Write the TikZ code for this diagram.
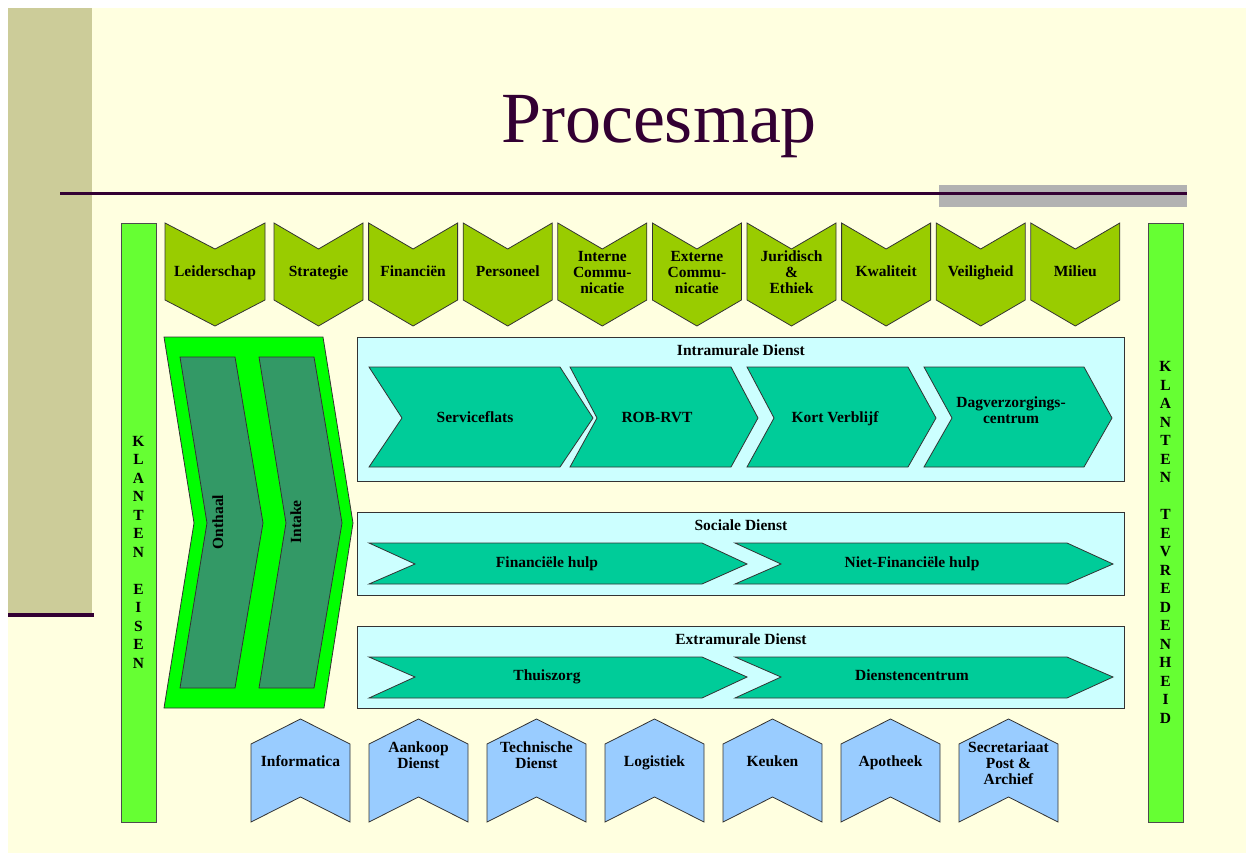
\documentclass[tikz,border=0pt]{standalone}
\usepackage{fontspec}
\setmainfont{Liberation Serif}
\usetikzlibrary{positioning}
\definecolor{slidebg}{HTML}{FFFFE0}
\definecolor{khaki}{HTML}{CCCC99}
\definecolor{plum}{HTML}{330033}
\definecolor{greybar}{HTML}{B2B2B2}
\definecolor{barlime}{HTML}{66FF33}
\definecolor{olivegreen}{HTML}{99CC00}
\definecolor{puregreen}{HTML}{00FF00}
\definecolor{seagreen}{HTML}{339966}
\definecolor{palecyan}{HTML}{CCFFFF}
\definecolor{procteal}{HTML}{00CC99}
\definecolor{skyblue}{HTML}{99CCFF}

\begin{document}
\begin{tikzpicture}[x=1pt, y=-1pt, line join=miter, node distance=7.5pt,
    lbl/.style={font=\bfseries\fontsize{15.5}{16}\selectfont, align=center, inner sep=0pt},
    onelbl/.style={lbl, text height=11pt, text depth=3pt},
    barlbl/.style={font=\bfseries\fontsize{15.5}{18.5}\selectfont, align=center, inner sep=0pt},
    sidebar/.style={draw=black!70, line width=0.8pt, fill=barlime, inner sep=0pt, anchor=north west},
    topchev/.style={draw=black!80, line width=0.8pt, fill=olivegreen},
    botchev/.style={draw=black!80, line width=0.8pt, fill=skyblue},
    procchev/.style={draw=black!80, line width=0.8pt, fill=procteal},
    dienstbox/.style={draw=black!80, line width=0.8pt, fill=palecyan, inner sep=0pt, anchor=north west, minimum width=767pt}]
    \useasboundingbox (0,0) rectangle (1246,853);
    \fill[white] (0,0) rectangle (1246,853);
    \fill[slidebg] (8,8) rectangle (1246,853);

    % slide decoration
    \fill[khaki] (8,8) rectangle (92,613);
    \draw[plum, line width=4pt] (8,615) -- (94,615);
    \fill[greybar] (939,185) rectangle (1187,207);
    \draw[plum, line width=3pt] (60,193) -- (1187,193);
    \node[text=plum, font=\fontsize{72}{80}\selectfont, anchor=base, inner sep=0pt] (title) at (659,143) {Procesmap};

    % klanten bars
    \node[sidebar, minimum width=35pt, minimum height=599pt] (eisen) at (121,223) {};
    \node[sidebar, minimum width=35pt, minimum height=599pt] (tevreden) at (1148,223) {};
    \node[barlbl] (eisentxt) at (138.5,552) {K\\L\\A\\N\\T\\E\\N\\[18.5pt]E\\I\\S\\E\\N};
    \node[barlbl] (tevredentxt) at (1165.5,542.5) {K\\L\\A\\N\\T\\E\\N\\[18.5pt]T\\E\\V\\R\\E\\D\\E\\N\\H\\E\\I\\D};

    % management chevrons
    \draw[topchev] (165,223) -- ++(50,26) -- ++(50,-26) -- ++(0,77) -- ++(-50,26) -- ++(-50,-26) -- cycle;
    \draw[topchev] (274,223) -- ++(44.5,26) -- ++(44.5,-26) -- ++(0,77) -- ++(-44.5,26) -- ++(-44.5,-26) -- cycle;
    \draw[topchev] (368.6,223) -- ++(44.5,26) -- ++(44.5,-26) -- ++(0,77) -- ++(-44.5,26) -- ++(-44.5,-26) -- cycle;
    \draw[topchev] (463.2,223) -- ++(44.5,26) -- ++(44.5,-26) -- ++(0,77) -- ++(-44.5,26) -- ++(-44.5,-26) -- cycle;
    \draw[topchev] (557.8,223) -- ++(44.5,26) -- ++(44.5,-26) -- ++(0,77) -- ++(-44.5,26) -- ++(-44.5,-26) -- cycle;
    \draw[topchev] (652.4,223) -- ++(44.5,26) -- ++(44.5,-26) -- ++(0,77) -- ++(-44.5,26) -- ++(-44.5,-26) -- cycle;
    \draw[topchev] (747,223) -- ++(44.5,26) -- ++(44.5,-26) -- ++(0,77) -- ++(-44.5,26) -- ++(-44.5,-26) -- cycle;
    \draw[topchev] (841.6,223) -- ++(44.5,26) -- ++(44.5,-26) -- ++(0,77) -- ++(-44.5,26) -- ++(-44.5,-26) -- cycle;
    \draw[topchev] (936.2,223) -- ++(44.5,26) -- ++(44.5,-26) -- ++(0,77) -- ++(-44.5,26) -- ++(-44.5,-26) -- cycle;
    \draw[topchev] (1030.8,223) -- ++(44.5,26) -- ++(44.5,-26) -- ++(0,77) -- ++(-44.5,26) -- ++(-44.5,-26) -- cycle;
    \node[onelbl] (leider) at (215,272) {Leiderschap};
    \node[onelbl] (strat) at (318.5,272) {Strategie};
    \node[onelbl] (fin) at (413.1,272) {Financiën};
    \node[onelbl] (pers) at (507.7,272) {Personeel};
    \node[lbl] (intcom) at (602.3,272) {Interne\\Commu-\\nicatie};
    \node[lbl] (extcom) at (696.9,272) {Externe\\Commu-\\nicatie};
    \node[lbl] (jur) at (791.5,272) {Juridisch\\\&\\Ethiek};
    \node[onelbl] (kwal) at (886.1,272) {Kwaliteit};
    \node[onelbl] (veil) at (980.7,272) {Veiligheid};
    \node[onelbl] (milieu) at (1075.3,272) {Milieu};

    % onthaal en intake
    \draw[draw=black!80, line width=0.8pt, fill=puregreen] (164,337) -- (323,337) -- (353,523) -- (324,708) -- (164,708) -- (194,523) -- cycle;
    \draw[draw=black!80, line width=0.8pt, fill=seagreen] (180,357) -- (235,357) -- (263,523) -- (235,688) -- (180,688) -- (207,523) -- cycle;
    \draw[draw=black!80, line width=0.8pt, fill=seagreen] (259,357) -- (314,357) -- (342,523) -- (314,688) -- (259,688) -- (286,523) -- cycle;
    \node[onelbl, rotate=90] (onthaal) at (219,522) {Onthaal};
    \node[onelbl, rotate=90] (intake) at (297,522) {Intake};

    % diensten
    \node[dienstbox, minimum height=144pt] (intra) at (357,337) {};
    \node[dienstbox, minimum height=83pt] (sociaal) at (357,512) {};
    \node[dienstbox, minimum height=82pt] (extra) at (357,626) {};
    \node[lbl, below=of intra.north] (intratitle) {Intramurale Dienst};
    \node[lbl, below=of sociaal.north] (sociaaltitle) {Sociale Dienst};
    \node[lbl, below=of extra.north] (extratitle) {Extramurale Dienst};

    \draw[procchev] (369,367) -- (560,367) -- (593,418) -- (560,467) -- (369,467) -- (402,418) -- cycle;
    \draw[procchev] (570,367) -- (731,367) -- (758,418) -- (731,467) -- (570,467) -- (597,418) -- cycle;
    \draw[procchev] (747,367) -- (908,367) -- (936,418) -- (908,467) -- (747,467) -- (774,418) -- cycle;
    \draw[procchev] (924,367) -- (1084,367) -- (1112,418) -- (1084,467) -- (924,467) -- (952,418) -- cycle;
    \node[onelbl] (service) at (475,418) {Serviceflats};
    \node[onelbl] (rob) at (657,418) {ROB-RVT};
    \node[onelbl] (kort) at (835,418) {Kort Verblijf};
    \node[lbl] (dag) at (1011,410) {Dagverzorgings-\\centrum};

    \draw[procchev] (369,543) -- (702,543) -- (747,564) -- (702,584) -- (369,584) -- (415,564) -- cycle;
    \draw[procchev] (735,543) -- (1067,543) -- (1113,564) -- (1067,584) -- (735,584) -- (781,564) -- cycle;
    \node[onelbl] (finhulp) at (547,563) {Financiële hulp};
    \node[onelbl] (nietfin) at (912,563) {Niet-Financiële hulp};

    \draw[procchev] (369,657) -- (702,657) -- (747,677) -- (702,698) -- (369,698) -- (415,677) -- cycle;
    \draw[procchev] (735,657) -- (1067,657) -- (1113,677) -- (1067,698) -- (735,698) -- (781,677) -- cycle;
    \node[onelbl] (thuis) at (547,676) {Thuiszorg};
    \node[onelbl] (dcentrum) at (912,676) {Dienstencentrum};

    % ondersteunende chevrons
    \draw[botchev] (251,744) -- ++(49.5,-25) -- ++(49.5,25) -- ++(0,78) -- ++(-49.5,-25) -- ++(-49.5,25) -- cycle;
    \draw[botchev] (369,744) -- ++(49.5,-25) -- ++(49.5,25) -- ++(0,78) -- ++(-49.5,-25) -- ++(-49.5,25) -- cycle;
    \draw[botchev] (487,744) -- ++(49.5,-25) -- ++(49.5,25) -- ++(0,78) -- ++(-49.5,-25) -- ++(-49.5,25) -- cycle;
    \draw[botchev] (605,744) -- ++(49.5,-25) -- ++(49.5,25) -- ++(0,78) -- ++(-49.5,-25) -- ++(-49.5,25) -- cycle;
    \draw[botchev] (723,744) -- ++(49.5,-25) -- ++(49.5,25) -- ++(0,78) -- ++(-49.5,-25) -- ++(-49.5,25) -- cycle;
    \draw[botchev] (841,744) -- ++(49.5,-25) -- ++(49.5,25) -- ++(0,78) -- ++(-49.5,-25) -- ++(-49.5,25) -- cycle;
    \draw[botchev] (959,744) -- ++(49.5,-25) -- ++(49.5,25) -- ++(0,78) -- ++(-49.5,-25) -- ++(-49.5,25) -- cycle;
    \node[onelbl] (info) at (300.5,762) {Informatica};
    \node[lbl, anchor=north] (aankoop) at (418.5,742) {Aankoop\\Dienst};
    \node[lbl, anchor=north] (techn) at (536.5,742) {Technische\\Dienst};
    \node[onelbl] (logist) at (654.5,762) {Logistiek};
    \node[onelbl] (keuken) at (772.5,762) {Keuken};
    \node[onelbl] (apoth) at (890.5,762) {Apotheek};
    \node[lbl, anchor=north] (secr) at (1008.5,742) {Secretariaat\\Post \&\\Archief};
\end{tikzpicture}
\end{document}
